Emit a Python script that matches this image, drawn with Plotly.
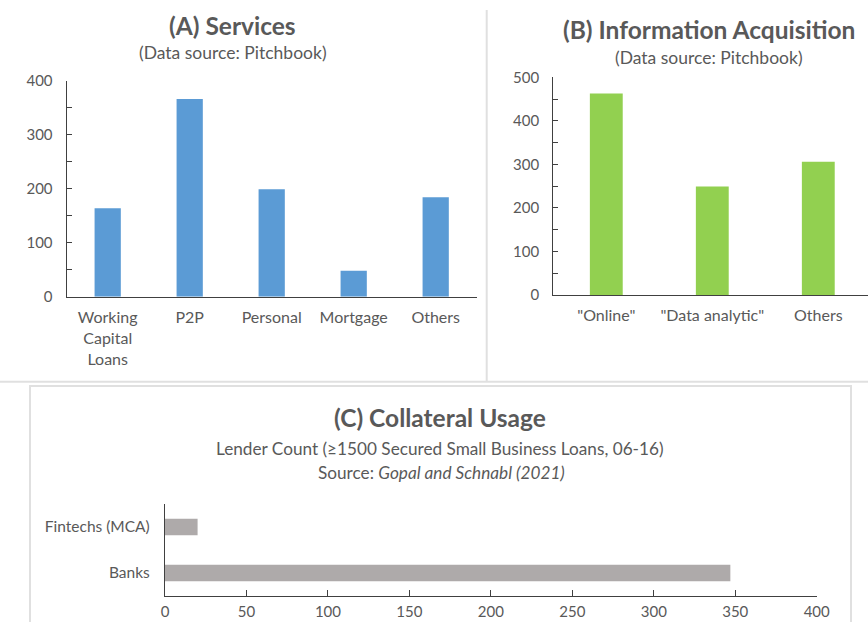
import plotly.graph_objects as go

W, H = 868, 622

# data
services = ["Working<br>Capital<br>Loans", "P2P", "Personal", "Mortgage", "Others"]
services_count = [164, 366, 199, 48, 184]

info = ['"Online"', '"Data analytic"', "Others"]
info_count = [463, 249, 306]

lenders = ["Banks", "Fintechs (MCA)"]
lender_count = [347, 20]

FONT = "Lato"
GREY = "#595959"
AXIS = "#404040"


def px(x):
    return x / W


def py(y):
    return 1 - y / H


fig = go.Figure()

fig.add_trace(go.Bar(x=services, y=services_count, marker_color="#5B9BD5",
                     width=0.32, xaxis="x", yaxis="y"))
fig.add_trace(go.Bar(x=info, y=info_count, marker_color="#92D050",
                     width=0.31, xaxis="x2", yaxis="y2"))
fig.add_trace(go.Bar(x=lender_count, y=lenders, orientation="h",
                     marker_color="#AEAAAA", width=0.36, xaxis="x3", yaxis="y3"))

numfont = dict(family=FONT, size=15, color=GREY)
catfont = dict(family=FONT, size=16, color=GREY)
line = dict(showline=True, linecolor=AXIS, linewidth=1.3, showgrid=False,
            zeroline=False, automargin=False)

fig.update_layout(
    template="none",
    width=W, height=H,
    margin=dict(l=0, r=0, t=0, b=0, pad=0),
    paper_bgcolor="white", plot_bgcolor="white",
    showlegend=False,
    font=dict(family=FONT, color=GREY),
    # (A) services
    xaxis=dict(domain=[px(66.7), px(476.7)], range=[-0.5, 4.5], ticks="",
               tickfont=catfont, ticklabelstandoff=6, anchor="y", **line),
    yaxis=dict(domain=[py(296.7), py(80.7)], range=[0, 400], dtick=100,
               ticks="inside", ticklen=5, tickcolor=AXIS,
               minor=dict(dtick=50, ticks="inside", ticklen=5, tickcolor=AXIS),
               tickfont=numfont, ticklabelstandoff=10, anchor="x", **line),
    # (B) information acquisition
    xaxis2=dict(domain=[px(553.3), 1], range=[-0.5, -0.5 + (W - 553.3) / 106], ticks="",
                tickfont=catfont, ticklabelstandoff=6, anchor="y2", **line),
    yaxis2=dict(domain=[py(295), py(77.3)], range=[0, 500], dtick=100,
                ticks="inside", ticklen=5, tickcolor=AXIS,
                minor=dict(dtick=50, ticks="inside", ticklen=5, tickcolor=AXIS),
                tickfont=numfont, ticklabelstandoff=10, anchor="x2", **line),
    # (C) collateral usage
    xaxis3=dict(domain=[px(165), px(816.7)], range=[0, 400], dtick=50,
                ticks="inside", ticklen=6, tickcolor=AXIS,
                tickfont=numfont, ticklabelstandoff=2, anchor="y3", **line),
    yaxis3=dict(domain=[py(596), py(504)], range=[-0.5, 1.5], ticks="",
                tickfont=dict(family=FONT, size=15.5, color=GREY),
                ticklabelstandoff=11, anchor="x3", **line),
)

# panel separators and frame
sep = dict(color="#e0e0e0", width=2)
fig.add_shape(type="line", xref="paper", yref="paper",
              x0=px(486.7), x1=px(486.7), y0=py(10), y1=py(381.7), line=sep)
fig.add_shape(type="line", xref="paper", yref="paper",
              x0=0, x1=1, y0=py(381.7), y1=py(381.7), line=sep)
fig.add_shape(type="path", xref="paper", yref="paper",
              path=f"M {px(30)} {py(630)} L {px(30)} {py(386)} L {px(851)} {py(386)} L {px(851)} {py(630)}",
              line=sep)

titles = [
    ("<b>(A) Services</b>", 233, 25, 24.5),
    ("(Data source: Pitchbook)", 233, 52, 17.5),
    ("<b>(B) Information Acquisition</b>", 709, 30, 24.5),
    ("(Data source: Pitchbook)", 709, 58, 17.5),
    ("<b>(C) Collateral Usage</b>", 440, 418, 24.5),
    ("Lender Count (≥1500 Secured Small Business Loans, 06-16)", 440, 448, 17.2),
    ("Source: <i>Gopal and Schnabl (2021)</i>", 441, 473, 17.2),
]
for text, x, y, size in titles:
    fig.add_annotation(text=text, xref="paper", yref="paper", x=px(x), y=py(y),
                       xanchor="center", yanchor="middle", showarrow=False,
                       font=dict(family=FONT, size=size, color=GREY))

# the page body has a default 8px margin; drop it so the figure fills the window
fig.write_html("out.html", post_script="document.body.style.margin='0';",
               config={"displayModeBar": False})
